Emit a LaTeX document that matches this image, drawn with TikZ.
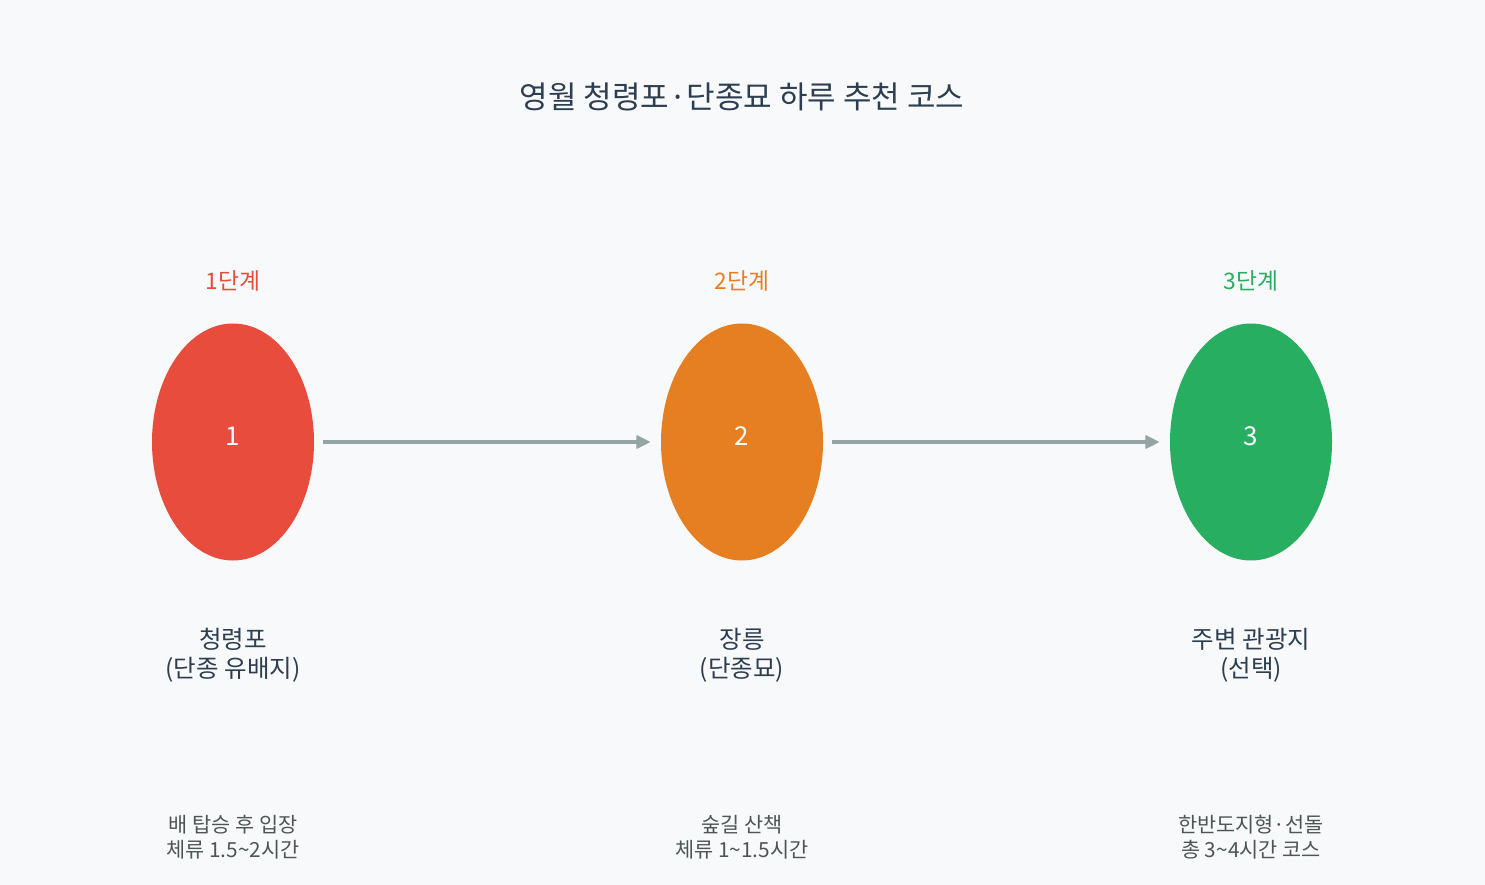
\documentclass[tikz,border=0pt]{standalone}
\usepackage{fontspec}
\setmainfont{Noto Sans CJK KR}
\usepackage{tikz}
\usetikzlibrary{arrows.meta,shapes,positioning}

\definecolor{bgcol}{HTML}{F8F9FA}
\definecolor{titlecol}{HTML}{2C3E50}
\definecolor{desccol}{HTML}{4D5656}
\definecolor{arrowcol}{HTML}{95A5A6}
\definecolor{redcol}{HTML}{E74C3C}
\definecolor{orangecol}{HTML}{E67E22}
\definecolor{greencol}{HTML}{27AE60}

\tikzset{flow/.style={draw=arrowcol,line width=4pt,
    -{Triangle[length=14pt,width=14pt,line join=round,line width=1pt]}}}

\begin{document}
\begin{tikzpicture}[x=1pt,y=-1pt]
          \tikzstyle{stage}=[ellipse,minimum width=162pt,minimum height=237pt,inner sep=0pt,fill=none]
          \tikzstyle{stepnum}=[text=white,font=\fontsize{26}{30}\selectfont,inner sep=0pt]
          \tikzstyle{steplabel}=[font=\fontsize{22.8}{26}\selectfont,inner sep=0pt]
          \tikzstyle{placename}=[align=center,text=titlecol,font=\fontsize{24.5}{29}\selectfont,inner sep=0pt]
          \tikzstyle{stepdesc}=[align=center,text=desccol,font=\fontsize{20.8}{25}\selectfont,inner sep=0pt]

          \fill[bgcol] (0,0) rectangle (1485,885);
          \useasboundingbox (0,0) rectangle (1485,885);

          \node[text=titlecol,font=\fontsize{31}{36}\selectfont](title) at (742,97){영월 청령포·단종묘 하루 추천 코스};

          \begin{scope}
            \node[stage,fill=redcol](s1) at (233,442){};
            \node[stage,fill=orangecol](s2) at (742,442){};
            \node[stage,fill=greencol](s3) at (1251,442){};

            \node[stepnum](c1) at (233,436){1};
            \node[stepnum](c2) at (742,436){2};
            \node[stepnum](c3) at (1251,436){3};

            \node[steplabel,text=redcol](l1) at (233,281){1단계};
            \node[steplabel,text=orangecol](l2) at (742,281){2단계};
            \node[steplabel,text=greencol](l3) at (1251,281){3단계};

            \node[placename](n1) at (233,655){청령포\\(단종 유배지)};
            \node[placename](n2) at (742,655){장릉\\(단종묘)};
            \node[placename](n3) at (1251,655){주변 관광지\\(선택)};

            \node[stepdesc](d1) at (233,837){배 탑승 후 입장\\체류 1.5\textasciitilde 2시간};
            \node[stepdesc](d2) at (742,837){숲길 산책\\체류 1\textasciitilde 1.5시간};
            \node[stepdesc](d3) at (1251,837){한반도지형·선돌\\총 3\textasciitilde 4시간 코스};

            \draw[flow] ([xshift=9pt]s1.east) -- ([xshift=-11pt]s2.west);
            \draw[flow] ([xshift=9pt]s2.east) -- ([xshift=-11pt]s3.west);
          \end{scope}
        \end{tikzpicture}
\end{document}
